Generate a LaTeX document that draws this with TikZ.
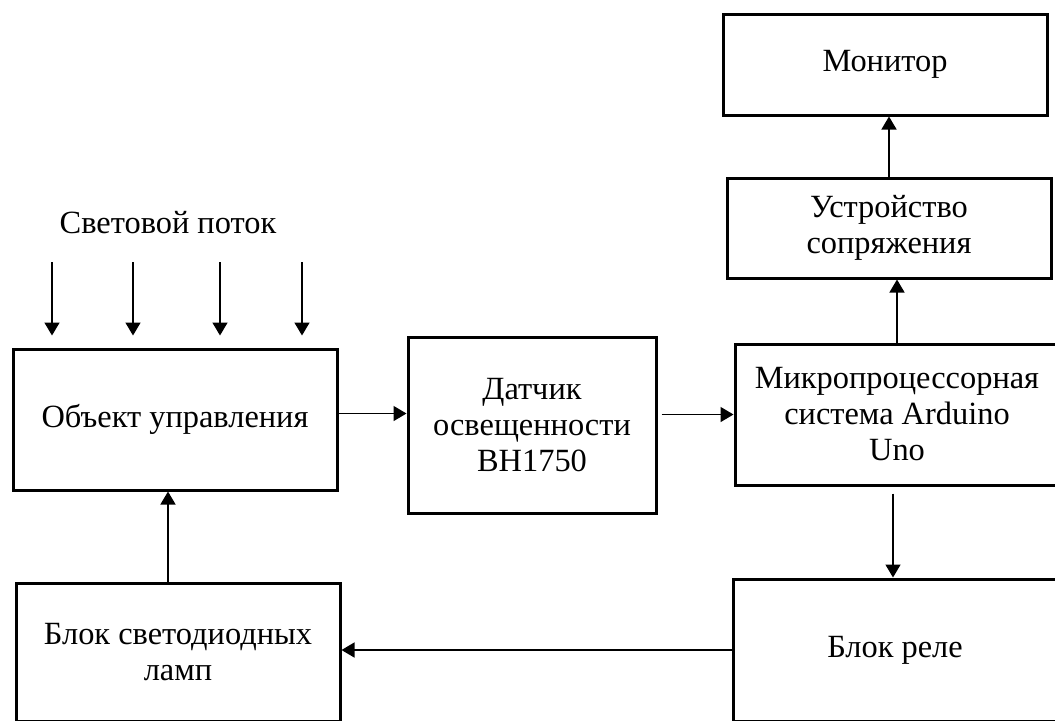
\documentclass[tikz,border=0pt]{standalone}
\usepackage{fontspec}
\setmainfont{Liberation Serif}
\usetikzlibrary{arrows.meta}

\tikzset{
  blok/.style={draw, line width=1.5pt, align=center, inner sep=0pt,
    font=\fontsize{16.2pt}{18pt}\selectfont},
  arr/.style={-{Triangle[length=6.5pt,width=7.5pt]}, line width=0.75pt}
}

\begin{document}
\begin{tikzpicture}[x=0.5pt,y=-0.5pt]
\useasboundingbox (0,0) rectangle (1055,720);
\clip (0,0) rectangle (1055,720);

% blocks
\node[blok, minimum width=162pt, minimum height=50.5pt] (mon) at (885,64.5) {Монитор};
\node[blok, minimum width=162pt, minimum height=50pt] (usp) at (889,228) {Устройство\\сопряжения};
\node[blok, minimum width=162pt, minimum height=70.5pt] (mcu) at (897,414.5) {Микропроцессорная\\система Arduino\\Uno};
\node[blok, minimum width=162pt, minimum height=71pt] (rel) at (895,650) {Блок реле};
\node[blok, minimum width=162pt, minimum height=70.5pt] (obj) at (175,419.5) {Объект управления};
\node[blok, minimum width=124pt, minimum height=88pt] (dat) at (532,425) {Датчик\\освещенности\\BH1750};
\node[blok, minimum width=162pt, minimum height=69pt] (led) at (178,652) {Блок светодиодных\\ламп};

% light flux
\node[font=\fontsize{16.2pt}{18pt}\selectfont] (flux) at (168,223) {Световой поток};
\foreach \i/\x in {1/52, 2/133, 3/220, 4/302} {
  \coordinate (s\i) at (\x,262);
  \draw[arr, shorten >=6pt] (s\i) -- (s\i |- obj.north);
}

% links
\draw[arr] ([yshift=3pt]obj.east) -- ([yshift=3pt]obj.east -| dat.west);
\draw[arr, shorten <=2pt] (dat.east |- mcu.west) -- (mcu.west);
\draw[arr] (mcu.north) -- (mcu.north |- usp.south);
\draw[arr] (usp.north) -- (usp.north |- mon.south);
\draw[arr, shorten <=3.5pt] ([xshift=-2pt]mcu.south) -- ([xshift=-2pt]mcu.south |- rel.north);
\draw[arr] (rel.west) -- (rel.west -| led.east);
\draw[arr] ([xshift=-5pt]led.north) -- ([xshift=-5pt]led.north |- obj.south);
\end{tikzpicture}
\end{document}
